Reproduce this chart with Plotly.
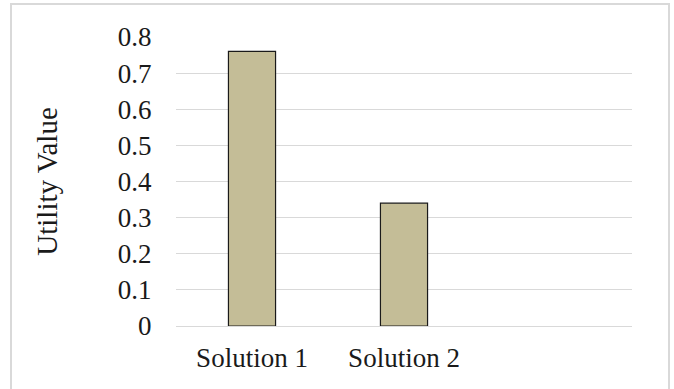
import plotly.graph_objects as go

categories = ["Solution 1", "Solution 2"]
values = [0.76, 0.34]
y_ticks = [0, 0.1, 0.2, 0.3, 0.4, 0.5, 0.6, 0.7, 0.8]
y_ticktext = ["0", "0.1", "0.2", "0.3", "0.4", "0.5", "0.6", "0.7", "0.8"]

font = "Liberation Serif, Times New Roman, serif"
txt = "#1a1a1a"

fig = go.Figure()
fig.add_trace(go.Bar(
    x=categories, y=values,
    marker=dict(color="#c4bd97", line=dict(color="#1a1a1a", width=1.2)),
    width=0.31,
))

L, R, T, B = 176, 42, 37, 63
W, H = 674, 389

fig.update_layout(
    width=W, height=H,
    margin=dict(l=L, r=R, t=T, b=B),
    paper_bgcolor="white", plot_bgcolor="white",
    showlegend=False,
    font=dict(family=font, size=26, color=txt),
    xaxis=dict(
        range=[-0.5, 2.5], showgrid=False, showline=False, zeroline=False,
        ticks="outside", tickcolor="rgba(0,0,0,0)", ticklen=8,
        tickfont=dict(family=font, size=27, color=txt),
    ),
    yaxis=dict(
        range=[0, 0.8], tickvals=y_ticks, ticktext=y_ticktext,
        showgrid=True, gridcolor="#d9d9d9", gridwidth=1,
        zeroline=True, zerolinecolor="#d9d9d9", zerolinewidth=1,
        showline=False,
        ticks="outside", tickcolor="rgba(0,0,0,0)", ticklen=18,
        tickfont=dict(family=font, size=27, color=txt),
        title=dict(text="Utility Value", font=dict(family=font, size=29, color=txt), standoff=51),
    ),
)

# chart frame border
fig.add_shape(type="rect", xref="paper", yref="paper",
              x0=(11 - L) / (W - L - R), x1=(669 - L) / (W - L - R),
              y0=(H - B - 400) / (H - T - B), y1=(H - B - 4) / (H - T - B),
              line=dict(color="#d9d9d9", width=2), fillcolor="rgba(0,0,0,0)", layer="below")

fig.write_html("out.html")
